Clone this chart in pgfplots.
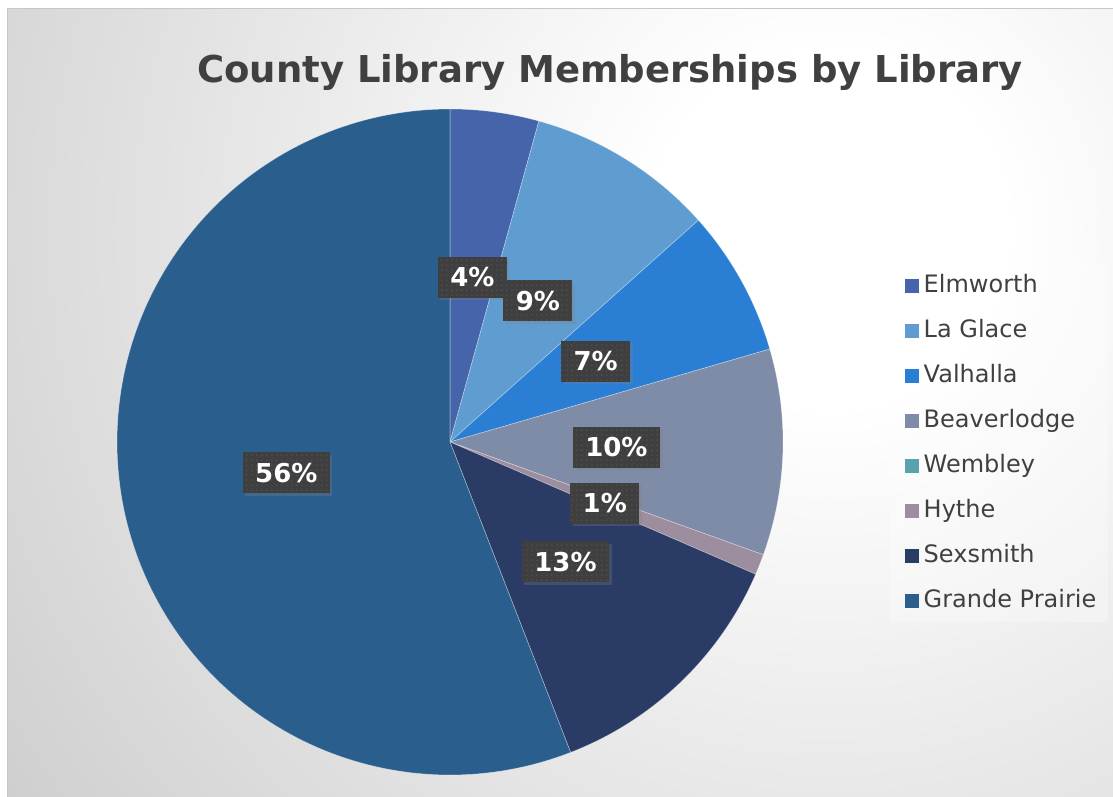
\documentclass[border=0pt]{standalone}
\usepackage{fontspec}
\setmainfont{DejaVu Sans}
\usepackage{pgfplots}
\pgfplotsset{compat=1.18}
\usetikzlibrary{shadows,patterns.meta}

\definecolor{cElm}{HTML}{4664AA}
\definecolor{cLaG}{HTML}{5F9DD1}
\definecolor{cVal}{HTML}{2A7FD5}
\definecolor{cBea}{HTML}{7F8CA8}
\definecolor{cWem}{HTML}{5AA3AE}
\definecolor{cHyt}{HTML}{9D8E9F}
\definecolor{cSex}{HTML}{2A3B66}
\definecolor{cGP}{HTML}{2A5F8D}
\definecolor{txt}{HTML}{404040}
\definecolor{lbl}{HTML}{3F3F3F}
\definecolor{bgedge}{HTML}{C9C9C9}

\pgfdeclareradialshading{bgshade}{\pgfpoint{0bp}{0bp}}{color(0bp)=(white); color(4bp)=(white); color(25bp)=(bgedge); color(50bp)=(bgedge)}

\tikzdeclarepattern{
  name=labeldots,
  type=uncolored,
  bounding box={(0bp,0bp) and (5bp,5bp)},
  tile size={(5bp,5bp)},
  code={\fill (1.5bp,1.5bp) rectangle (2.7bp,2.7bp);}
}

% membership shares (percent), clockwise from 12 o'clock
\def\vA{4.3}  % Elmworth
\def\vB{9.1}  % La Glace
\def\vC{7.1}  % Valhalla
\def\vD{10.0} % Beaverlodge
\def\vE{0.0}  % Wembley
\def\vF{1.0}  % Hythe
\def\vG{12.6} % Sexsmith
\def\vH{55.9} % Grande Prairie

\pgfmathsetmacro\cA{\vA}
\pgfmathsetmacro\cB{\cA+\vB}
\pgfmathsetmacro\cC{\cB+\vC}
\pgfmathsetmacro\cD{\cC+\vD}
\pgfmathsetmacro\cE{\cD+\vE}
\pgfmathsetmacro\cF{\cE+\vF}
\pgfmathsetmacro\cG{\cF+\vG}
\pgfmathsetmacro\cH{\cG+\vH}
\pgfmathsetmacro\tO{90}
\pgfmathsetmacro\tA{90-3.6*\cA}
\pgfmathsetmacro\tB{90-3.6*\cB}
\pgfmathsetmacro\tC{90-3.6*\cC}
\pgfmathsetmacro\tD{90-3.6*\cD}
\pgfmathsetmacro\tE{90-3.6*\cE}
\pgfmathsetmacro\tF{90-3.6*\cF}
\pgfmathsetmacro\tG{90-3.6*\cG}
\pgfmathsetmacro\tH{90-3.6*\cH}
\pgfmathsetmacro\xA{0.5*cos((\tO+\tA)/2)}\pgfmathsetmacro\yA{0.5*sin((\tO+\tA)/2)}
\pgfmathsetmacro\xB{0.5*cos((\tA+\tB)/2)}\pgfmathsetmacro\yB{0.5*sin((\tA+\tB)/2)}
\pgfmathsetmacro\xC{0.5*cos((\tB+\tC)/2)}\pgfmathsetmacro\yC{0.5*sin((\tB+\tC)/2)}
\pgfmathsetmacro\xD{0.5*cos((\tC+\tD)/2)}\pgfmathsetmacro\yD{0.5*sin((\tC+\tD)/2)}
\pgfmathsetmacro\xF{0.5*cos((\tE+\tF)/2)}\pgfmathsetmacro\yF{0.5*sin((\tE+\tF)/2)}
\pgfmathsetmacro\xG{0.5*cos((\tF+\tG)/2)}\pgfmathsetmacro\yG{0.5*sin((\tF+\tG)/2)}
\pgfmathsetmacro\xH{0.5*cos((\tG+\tH)/2)}\pgfmathsetmacro\yH{0.5*sin((\tG+\tH)/2)}

\begin{document}
\begin{tikzpicture}[
  lblbox/.style={fill=lbl, text=white, font=\bfseries\fontsize{26bp}{30bp}\selectfont,
    minimum height=41bp, inner xsep=12.5bp, inner ysep=0bp,
    drop shadow={shadow xshift=2.5bp, shadow yshift=-2.5bp, opacity=0.3},
    postaction={pattern=labeldots, pattern color=black!62}},
  slice/.style={fill=#1, draw=white, draw opacity=0.4, line width=0.6bp, samples=60}
]
\fill[white] (0,0) rectangle (1113bp,797bp);
\begin{scope}
  \clip (7bp,0bp) rectangle (1113bp,788bp);
  \shade[shading=bgshade] (830bp,567bp) circle (1100bp);
\end{scope}
\draw[black!22, line width=1bp] (7bp,-2bp) rectangle (1115bp,788bp);
\fill[white, opacity=0.3] (890bp,175bp) rectangle (1108bp,535bp);
\node[anchor=base, text=txt, font=\bfseries\fontsize{37bp}{43bp}\selectfont] at (610bp,714bp) {County Library Memberships by Library};

\begin{axis}[
  at={(450bp,355bp)}, anchor=center,
  scale only axis, width=666bp, height=666bp,
  xmin=-1, xmax=1, ymin=-1, ymax=1,
  hide axis, clip=false,
  legend image code/.code={\fill[#1,draw=none] (0bp,-7bp) rectangle (14bp,7bp);},
  legend style={at={(1.1637,0.7658)}, anchor=north west,
    draw=none, fill=none,
    font=\fontsize{24bp}{28bp}\selectfont, text=txt,
    inner xsep=13bp, inner ysep=8bp,
    row sep=19bp, column sep=2.5bp,
    nodes={inner sep=2bp, text height=17bp, text depth=5bp}},
  legend cell align=left,
]
\addplot[slice=cElm, domain=\tA:\tO] ({cos(x)},{sin(x)}) -- (axis cs:0,0) -- cycle;
\addlegendentry{Elmworth}
\addplot[slice=cLaG, domain=\tB:\tA] ({cos(x)},{sin(x)}) -- (axis cs:0,0) -- cycle;
\addlegendentry{La Glace}
\addplot[slice=cVal, domain=\tC:\tB] ({cos(x)},{sin(x)}) -- (axis cs:0,0) -- cycle;
\addlegendentry{Valhalla}
\addplot[slice=cBea, domain=\tD:\tC] ({cos(x)},{sin(x)}) -- (axis cs:0,0) -- cycle;
\addlegendentry{Beaverlodge}
\addlegendimage{fill=cWem}
\addlegendentry{Wembley}
\addplot[slice=cHyt, domain=\tF:\tE] ({cos(x)},{sin(x)}) -- (axis cs:0,0) -- cycle;
\addlegendentry{Hythe}
\addplot[slice=cSex, domain=\tG:\tF] ({cos(x)},{sin(x)}) -- (axis cs:0,0) -- cycle;
\addlegendentry{Sexsmith}
\addplot[slice=cGP, domain=\tH:\tG, samples=150] ({cos(x)},{sin(x)}) -- (axis cs:0,0) -- cycle;
\addlegendentry{Grande Prairie}

\node[lblbox] at (axis cs:\xA,\yA) {4\%};
\node[lblbox] at (axis cs:\xB,\yB) {9\%};
\node[lblbox] at (axis cs:\xC,\yC) {7\%};
\node[lblbox] at (axis cs:\xD,\yD) {10\%};
\node[lblbox] at (axis cs:\xF,\yF) {1\%};
\node[lblbox] at (axis cs:\xG,\yG) {13\%};
\node[lblbox] at (axis cs:\xH,\yH) {56\%};
\end{axis}
\pgfresetboundingbox
\path[use as bounding box] (0,0) rectangle (1113bp,797bp);
\end{tikzpicture}
\end{document}
